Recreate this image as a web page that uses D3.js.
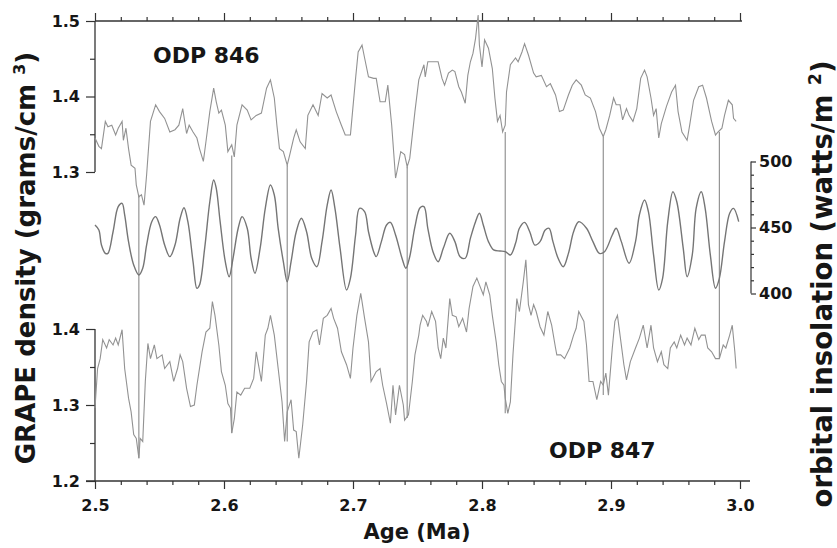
<!DOCTYPE html>
<html>
<head>
<meta charset="utf-8">
<script src="https://cdn.jsdelivr.net/npm/d3@7"></script>
<style>
  html, body { margin: 0; padding: 0; background: #fff; }
  svg text { font-family: "DejaVu Sans", sans-serif; font-weight: bold; fill: #161616; }
</style>
</head>
<body>
<svg id="chart" width="837" height="548"></svg>
<script>
// ODP 846 GRAPE density (top record)
const age846 = [2.500,2.503,2.505,2.508,2.510,2.513,2.516,2.518,2.521,2.522,2.524,2.526,2.528,2.531,2.532,2.534,2.536,2.538,2.540,2.543,
  2.547,2.550,2.554,2.558,2.562,2.565,2.568,2.571,2.573,2.576,2.579,2.581,2.584,2.586,2.589,2.592,2.594,2.596,2.598,2.601,
  2.603,2.606,2.608,2.610,2.614,2.618,2.621,2.625,2.629,2.633,2.636,2.639,2.641,2.643,2.646,2.649,2.651,2.654,2.656,2.659,
  2.663,2.665,2.669,2.673,2.676,2.680,2.683,2.687,2.691,2.694,2.698,2.702,2.704,2.707,2.709,2.712,2.716,2.718,2.721,2.725,
  2.727,2.730,2.733,2.734,2.737,2.740,2.742,2.744,2.748,2.751,2.755,2.756,2.758,2.762,2.766,2.769,2.771,2.774,2.777,2.779,
  2.782,2.784,2.787,2.789,2.791,2.793,2.795,2.797,2.798,2.800,2.802,2.805,2.808,2.810,2.812,2.814,2.816,2.818,2.819,2.822,
  2.826,2.828,2.831,2.833,2.836,2.840,2.842,2.846,2.850,2.853,2.857,2.860,2.863,2.867,2.870,2.873,2.877,2.880,2.884,2.888,
  2.891,2.894,2.896,2.899,2.902,2.904,2.907,2.909,2.912,2.914,2.917,2.920,2.923,2.926,2.928,2.931,2.933,2.935,2.937,2.939,
  2.943,2.947,2.950,2.952,2.955,2.959,2.961,2.964,2.968,2.971,2.974,2.978,2.981,2.983,2.986,2.988,2.991,2.994,2.995,2.997];
const grape846 = [1.345,1.334,1.331,1.367,1.360,1.362,1.349,1.358,1.367,1.342,1.358,1.331,1.309,1.305,1.283,1.267,1.270,1.256,1.296,1.367,
  1.389,1.380,1.371,1.353,1.356,1.362,1.384,1.351,1.362,1.353,1.345,1.331,1.314,1.340,1.380,1.411,1.393,1.378,1.382,1.362,
  1.327,1.336,1.320,1.362,1.389,1.382,1.369,1.375,1.378,1.411,1.422,1.398,1.362,1.331,1.327,1.309,1.323,1.345,1.356,1.340,
  1.331,1.375,1.389,1.375,1.404,1.398,1.402,1.380,1.362,1.349,1.349,1.424,1.459,1.468,1.451,1.426,1.424,1.424,1.393,1.393,
  1.415,1.362,1.292,1.300,1.327,1.323,1.307,1.318,1.380,1.422,1.442,1.426,1.446,1.446,1.446,1.424,1.415,1.431,1.435,1.433,
  1.413,1.406,1.391,1.428,1.446,1.457,1.477,1.508,1.468,1.439,1.475,1.464,1.437,1.398,1.367,1.375,1.353,1.362,1.406,1.442,
  1.451,1.446,1.459,1.470,1.455,1.431,1.426,1.428,1.413,1.417,1.402,1.380,1.382,1.402,1.415,1.422,1.415,1.402,1.398,1.380,
  1.358,1.347,1.356,1.375,1.398,1.389,1.389,1.369,1.384,1.375,1.367,1.384,1.424,1.435,1.426,1.398,1.375,1.384,1.345,1.364,
  1.387,1.406,1.415,1.380,1.353,1.342,1.362,1.395,1.413,1.415,1.398,1.367,1.349,1.353,1.358,1.375,1.395,1.389,1.371,1.367];

// orbital insolation (middle curve, right axis)
const ageInsol = [2.500,2.503,2.505,2.508,2.510,2.514,2.518,2.521,2.523,2.526,2.530,2.534,2.537,2.540,2.544,2.547,2.550,2.554,2.558,2.562,
  2.566,2.569,2.572,2.576,2.579,2.581,2.585,2.589,2.592,2.594,2.597,2.601,2.604,2.607,2.611,2.614,2.618,2.621,2.624,2.628,
  2.632,2.636,2.639,2.642,2.646,2.649,2.652,2.656,2.660,2.664,2.668,2.672,2.676,2.680,2.683,2.686,2.690,2.695,2.698,2.702,
  2.705,2.709,2.712,2.716,2.718,2.722,2.726,2.729,2.733,2.738,2.741,2.744,2.748,2.752,2.755,2.758,2.762,2.766,2.770,2.775,
  2.779,2.783,2.787,2.791,2.795,2.798,2.801,2.805,2.809,2.814,2.818,2.822,2.826,2.829,2.833,2.837,2.841,2.845,2.849,2.852,
  2.855,2.859,2.863,2.867,2.871,2.875,2.881,2.886,2.891,2.895,2.901,2.904,2.908,2.914,2.919,2.922,2.926,2.929,2.933,2.937,
  2.940,2.944,2.948,2.951,2.956,2.959,2.963,2.966,2.970,2.973,2.977,2.981,2.984,2.988,2.992,2.995,2.999];
const insol = [451.9,448.1,436.7,430.4,430.4,446.8,465.8,468.3,459.5,439.3,421.6,414.0,419.1,436.7,454.4,458.2,451.9,436.7,427.9,436.7,
  457.0,465.0,454.4,424.1,403.9,406.4,434.2,469.5,486.0,479.7,454.4,424.1,412.7,426.7,449.4,458.2,449.4,426.7,415.3,434.2,
  464.5,482.2,474.6,449.4,424.1,408.9,424.1,446.8,457.0,446.8,426.7,420.3,439.3,467.0,478.4,464.5,434.2,402.7,411.5,444.3,
  464.5,462.0,446.8,431.7,427.9,439.3,451.9,453.9,444.3,426.7,419.1,428.0,450.5,465.0,465.8,449.4,431.7,424.1,434.2,445.6,
  439.3,427.9,426.7,441.8,454.4,460.8,451.9,439.3,433.0,432.2,431.7,429.2,438.0,449.4,453.9,446.8,436.7,439.3,448.1,449.4,
  439.3,426.7,420.3,430.4,446.8,454.4,449.4,439.3,430.4,431.7,444.3,449.4,439.3,422.9,439.3,459.5,470.8,462.0,429.2,402.7,
  411.5,454.4,477.1,469.5,434.2,412.7,429.2,464.5,477.1,464.5,429.2,404.0,411.5,439.3,460.8,464.5,454.4];

// ODP 847 GRAPE density (bottom record)
const age847 = [2.500,2.502,2.504,2.506,2.509,2.511,2.514,2.516,2.518,2.521,2.523,2.526,2.528,2.530,2.532,2.534,2.535,2.537,2.539,2.541,
  2.543,2.546,2.548,2.552,2.554,2.558,2.561,2.564,2.566,2.568,2.571,2.574,2.577,2.579,2.583,2.586,2.589,2.591,2.593,2.596,
  2.598,2.601,2.603,2.605,2.606,2.608,2.610,2.613,2.616,2.620,2.623,2.625,2.629,2.632,2.634,2.636,2.639,2.642,2.645,2.647,
  2.649,2.652,2.654,2.656,2.658,2.661,2.664,2.666,2.669,2.672,2.674,2.677,2.680,2.683,2.685,2.688,2.691,2.695,2.698,2.700,
  2.703,2.706,2.709,2.712,2.714,2.718,2.721,2.723,2.726,2.729,2.731,2.733,2.736,2.739,2.740,2.743,2.746,2.748,2.751,2.752,
  2.754,2.757,2.758,2.761,2.764,2.766,2.768,2.770,2.772,2.775,2.777,2.780,2.782,2.785,2.788,2.790,2.793,2.796,2.798,2.801,
  2.803,2.806,2.808,2.811,2.813,2.815,2.817,2.818,2.820,2.822,2.824,2.827,2.829,2.832,2.834,2.836,2.838,2.840,2.842,2.845,
  2.848,2.851,2.854,2.857,2.858,2.861,2.864,2.868,2.871,2.873,2.875,2.879,2.881,2.883,2.886,2.889,2.892,2.894,2.896,2.898,
  2.901,2.903,2.905,2.907,2.910,2.912,2.915,2.919,2.922,2.925,2.928,2.931,2.933,2.936,2.939,2.941,2.944,2.946,2.949,2.951,
  2.954,2.957,2.959,2.962,2.965,2.968,2.970,2.973,2.975,2.978,2.981,2.984,2.987,2.989,2.992,2.994,2.996,2.997];
const grape847 = [1.296,1.348,1.361,1.386,1.375,1.386,1.379,1.388,1.379,1.399,1.348,1.309,1.291,1.261,1.256,1.230,1.256,1.252,1.331,1.381,
  1.361,1.379,1.361,1.366,1.348,1.357,1.331,1.348,1.366,1.357,1.322,1.298,1.300,1.326,1.370,1.396,1.401,1.436,1.418,1.379,
  1.344,1.326,1.302,1.296,1.263,1.282,1.317,1.313,1.322,1.322,1.335,1.370,1.331,1.392,1.401,1.418,1.392,1.348,1.304,1.252,
  1.291,1.307,1.267,1.265,1.230,1.274,1.331,1.383,1.396,1.399,1.379,1.414,1.418,1.427,1.414,1.401,1.370,1.353,1.335,1.375,
  1.418,1.447,1.414,1.383,1.331,1.344,1.348,1.326,1.302,1.276,1.326,1.287,1.326,1.300,1.280,1.287,1.331,1.366,1.392,1.405,
  1.418,1.410,1.403,1.423,1.410,1.375,1.361,1.388,1.375,1.440,1.418,1.416,1.403,1.414,1.396,1.427,1.456,1.467,1.458,1.445,
  1.462,1.445,1.418,1.383,1.353,1.331,1.326,1.309,1.289,1.304,1.366,1.440,1.423,1.462,1.491,1.432,1.418,1.432,1.423,1.403,
  1.392,1.423,1.405,1.375,1.366,1.366,1.361,1.375,1.392,1.401,1.423,1.410,1.379,1.331,1.331,1.307,1.331,1.326,1.342,1.313,
  1.375,1.410,1.418,1.392,1.353,1.333,1.357,1.375,1.388,1.405,1.375,1.405,1.375,1.357,1.370,1.353,1.348,1.375,1.383,1.375,
  1.392,1.379,1.388,1.379,1.401,1.386,1.392,1.392,1.375,1.370,1.361,1.361,1.379,1.375,1.392,1.405,1.370,1.348];

// tie lines between the two records
const tieAges = [2.534, 2.606, 2.649, 2.742, 2.818, 2.894, 2.984];
const tieTop = [1.270, 1.322, 1.309, 1.307, 1.353, 1.347, 1.353];
const tieBottom = [1.230, 1.263, 1.252, 1.283, 1.289, 1.313, 1.362];

const xMajor = [2.5, 2.6, 2.7, 2.8, 2.9, 3.0];
const xMinor = d3.range(2.52, 3.0, 0.02).filter(d => Math.abs(d * 10 - Math.round(d * 10)) > 0.01);
const topMajor = [1.3, 1.4, 1.5];
const topMinor = [1.35, 1.45];
const botMajor = [1.2, 1.3, 1.4];
const botMinor = [1.25, 1.35];
const insMajor = [400, 450, 500];
const insMinor = [410, 420, 430, 440, 460, 470, 480, 490];

var svg = d3.select("#chart");

var x = d3.scaleLinear().domain([2.5, 3.0]).range([95, 740]);
var yTop = d3.scaleLinear().domain([1.3, 1.5]).range([172, 21]);
var yBot = d3.scaleLinear().domain([1.2, 1.4]).range([481, 329]);
var yIns = d3.scaleLinear().domain([400, 500]).range([293.5, 161.5]);

const axisColor = "#333";
const fmt = d3.format(".1f");

function styleAxis(g) {
    g.select(".domain").remove();
    g.selectAll(".tick line").attr("stroke", axisColor).attr("stroke-width", 1.2);
    g.selectAll(".tick text")
        .attr("font-family", "DejaVu Sans")
        .attr("font-weight", "bold")
        .attr("font-size", 16)
        .attr("fill", "#161616");
}

// bottom x axis
svg.append("line")
    .attr("x1", x(2.5) - 9).attr("x2", x(3.0) + 10)
    .attr("y1", yBot(1.2)).attr("y2", yBot(1.2))
    .attr("stroke", axisColor).attr("stroke-width", 1.3);
svg.append("g")
    .attr("transform", "translate(0," + yBot(1.2) + ")")
    .call(d3.axisBottom(x).tickValues(xMajor).tickSize(8).tickPadding(11).tickFormat(fmt))
    .call(styleAxis)
    .selectAll(".tick text").attr("fill", d => d === 2.6 ? "#232a6e" : "#161616");
svg.append("g")
    .attr("transform", "translate(0," + yBot(1.2) + ")")
    .call(d3.axisBottom(x).tickValues(xMinor).tickSize(4).tickFormat(""))
    .call(styleAxis);

// top x axis (ticks only)
svg.append("line")
    .attr("x1", x(2.5)).attr("x2", x(3.0) + 2)
    .attr("y1", yTop(1.5)).attr("y2", yTop(1.5))
    .attr("stroke", axisColor).attr("stroke-width", 1.3);
svg.append("g")
    .attr("transform", "translate(0," + yTop(1.5) + ")")
    .call(d3.axisTop(x).tickValues(xMajor).tickSize(8).tickFormat(""))
    .call(styleAxis);
svg.append("g")
    .attr("transform", "translate(0," + yTop(1.5) + ")")
    .call(d3.axisTop(x).tickValues(xMinor).tickSize(4).tickFormat(""))
    .call(styleAxis);

// left axes, one for each record
[[yTop, topMajor, topMinor], [yBot, botMajor, botMinor]].forEach(function (a) {
    var sc = a[0];
    svg.append("line")
        .attr("x1", x(2.5)).attr("x2", x(2.5))
        .attr("y1", sc.range()[0]).attr("y2", sc.range()[1])
        .attr("stroke", axisColor).attr("stroke-width", 1.3);
    svg.append("g")
        .attr("transform", "translate(" + x(2.5) + ",0)")
        .call(d3.axisLeft(sc).tickValues(a[1]).tickSize(9).tickPadding(6).tickFormat(fmt))
        .call(styleAxis);
    svg.append("g")
        .attr("transform", "translate(" + x(2.5) + ",0)")
        .call(d3.axisLeft(sc).tickValues(a[2]).tickSize(5).tickFormat(""))
        .call(styleAxis);
});

// right insolation axis
var insX = x(3.0) + 11;
svg.append("line")
    .attr("x1", insX).attr("x2", insX)
    .attr("y1", yIns(400)).attr("y2", yIns(500))
    .attr("stroke", axisColor).attr("stroke-width", 1.2);
svg.append("g")
    .attr("transform", "translate(" + insX + ",0)")
    .call(d3.axisRight(yIns).tickValues(insMajor).tickSize(5).tickPadding(3))
    .call(styleAxis);
svg.append("g")
    .attr("transform", "translate(" + insX + ",0)")
    .call(d3.axisRight(yIns).tickValues(insMinor).tickSize(3).tickFormat(""))
    .call(styleAxis);

// tie lines
svg.append("g").selectAll("line")
    .data(d3.range(tieAges.length))
    .enter().append("line")
    .attr("x1", i => x(tieAges[i])).attr("x2", i => x(tieAges[i]))
    .attr("y1", i => yTop(tieTop[i]))
    .attr("y2", i => yBot(tieBottom[i]))
    .attr("stroke", "#8a8a8a")
    .attr("stroke-width", 1.1);

// curves
var line846 = d3.line().x(d => x(d[0])).y(d => yTop(d[1]));
var lineIns = d3.line().x(d => x(d[0])).y(d => yIns(d[1]));
var line847 = d3.line().x(d => x(d[0])).y(d => yBot(d[1]));

svg.append("path")
    .datum(d3.zip(age846, grape846))
    .attr("d", line846)
    .attr("fill", "none").attr("stroke", "#929292").attr("stroke-width", 1.1);
svg.append("path")
    .datum(d3.zip(ageInsol, insol))
    .attr("d", lineIns.curve(d3.curveCatmullRom))
    .attr("fill", "none").attr("stroke", "#757575").attr("stroke-width", 1.4);
svg.append("path")
    .datum(d3.zip(age847, grape847))
    .attr("d", line847)
    .attr("fill", "none").attr("stroke", "#929292").attr("stroke-width", 1.1);

// record names
svg.append("text")
    .attr("x", 153).attr("y", 63)
    .attr("font-size", 22)
    .text("ODP 846");
svg.append("text")
    .attr("x", 549).attr("y", 458)
    .attr("font-size", 22)
    .text("ODP 847");

// axis titles
svg.append("text")
    .attr("x", 417).attr("y", 539)
    .attr("text-anchor", "middle")
    .attr("font-size", 21)
    .text("Age (Ma)");

var leftTitle = svg.append("text")
    .attr("transform", "translate(35,258) rotate(-90)")
    .attr("text-anchor", "middle")
    .attr("font-size", 26);
leftTitle.append("tspan").text("GRAPE density (grams/cm ");
leftTitle.append("tspan").attr("font-size", 16).attr("dy", -10).text("3");
leftTitle.append("tspan").attr("dy", 10).text(")");

var rightTitle = svg.append("text")
    .attr("transform", "translate(832,284) rotate(-90)")
    .attr("text-anchor", "middle")
    .attr("font-size", 27.5);
rightTitle.append("tspan").text("orbital insolation (watts/m ");
rightTitle.append("tspan").attr("font-size", 17).attr("dy", -11).text("2");
rightTitle.append("tspan").attr("dy", 11).text(")");
</script>
</body>
</html>
